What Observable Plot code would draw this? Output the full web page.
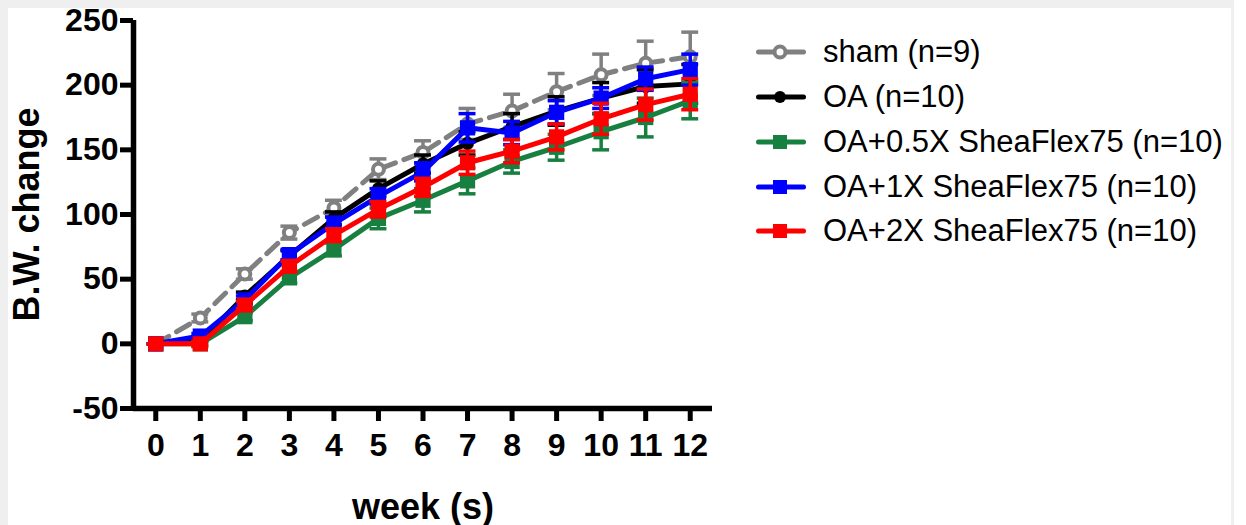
<!DOCTYPE html>
<html><head><meta charset="utf-8">
<script src="https://cdn.jsdelivr.net/npm/d3@7"></script>
<script src="https://cdn.jsdelivr.net/npm/@observablehq/plot@0.6"></script>
<style>
body{margin:0;background:#fff;font-family:"Liberation Sans",Arial,sans-serif;}
#wrap{position:relative;width:1246px;height:525px;overflow:hidden;}
#frame{position:absolute;left:0;top:0;width:1223px;height:530px;border-left:8px solid #efefef;border-top:8px solid #efefef;border-right:3px solid #efefef;}
#chart{position:absolute;left:0;top:0;}
#chart svg{background:transparent;overflow:visible;}
.leg{position:absolute;left:756px;height:34px;display:flex;align-items:center;font-size:31px;color:#000;white-space:nowrap;}
.leg svg{width:50px;height:20px;margin-right:17px;}
</style>
</head><body>
<div id="wrap"><div id="frame"></div><div id="chart"></div><div id="legend"></div></div>
<script>
const weeks = [0,1,2,3,4,5,6,7,8,9,10,11,12];
const yTicks = [-50,0,50,100,150,200,250];

const names = ["sham (n=9)","OA (n=10)","OA+0.5X SheaFlex75 (n=10)","OA+1X SheaFlex75 (n=10)","OA+2X SheaFlex75 (n=10)"];
const colors = ["#808080","#000000","#178040","#0000ff","#ff0000"];

const shamMean = [0,20,54,86,105,135,148,170,180,195,208,217,222];
const shamSem  = [0,3,4,5,6,8,9,12,13,14,16,17,19];
const oaMean   = [0,2,37,68,97,120,139,155,168,180,190,199,201];
const oaSem    = [0,2,3,4,5,6,7,9,10,11,12,13,15];
const halfMean = [0,0,21,51,73,97,111,126,141,152,164,175,188];
const halfSem  = [0,2,3,4,5,8,9,10,9,10,14,15,14];
const oneMean  = [0,6,34,69,93,114,133,167,163,179,190,205,212];
const oneSem   = [0,2,3,4,5,6,7,11,9,9,8,9,12];
const twoMean  = [0,0,30,60,84,104,121,140,149,160,174,185,193];
const twoSem   = [0,2,3,4,5,6,7,9,9,10,12,12,12];

const means = [shamMean, oaMean, halfMean, oneMean, twoMean];
const sems = [shamSem, oaSem, halfSem, oneSem, twoSem];

const font = "Liberation Sans, Arial, sans-serif";
const marks = [];
means.forEach((m, s) => {
  const data = weeks.map((w, i) => ({week: w, v: m[i], e: sems[s][i]}));
  const c = colors[s];
  marks.push(Plot.ruleX(data, {x: "week", y1: d => d.v - d.e, y2: d => d.v + d.e, stroke: c, strokeWidth: 3.5}));
  marks.push(Plot.ruleY(data, {y: d => d.v + d.e, x1: d => d.week - 0.19, x2: d => d.week + 0.19, stroke: c, strokeWidth: 3.5}));
  marks.push(Plot.ruleY(data, {y: d => d.v - d.e, x1: d => d.week - 0.19, x2: d => d.week + 0.19, stroke: c, strokeWidth: 3.5}));
  marks.push(Plot.line(data, {x: "week", y: "v", stroke: c, strokeWidth: 5, strokeDasharray: s === 0 ? "15,9" : null}));
  if (s === 0) marks.push(Plot.dot(data, {x: "week", y: "v", r: 5.5, stroke: c, strokeWidth: 4, fill: "white"}));
  else if (s === 1) marks.push(Plot.dot(data, {x: "week", y: "v", r: 6.5, fill: c, stroke: "none"}));
  else marks.push(Plot.dot(data, {x: "week", y: "v", r: 8.6, symbol: "square", fill: c, stroke: "none"}));
});

const chart = Plot.plot({
  width: 1246, height: 525,
  marginLeft: 133, marginRight: 534, marginTop: 20, marginBottom: 117,
  style: {background: "transparent", color: "#000", fontFamily: font},
  x: {domain: [-0.5, 12.5], axis: null},
  y: {domain: [-50, 250], axis: null},
  marks: [
    ...marks,
    Plot.axisX({ticks: weeks, tickSize: 13, tickPadding: 12, strokeWidth: 5, fontSize: 32, fontWeight: "bold", fontFamily: font, label: null, tickFormat: d => String(d)}),
    Plot.axisY({ticks: yTicks, tickSize: 13, tickPadding: 2, strokeWidth: 5, fontSize: 32, fontWeight: "bold", fontFamily: font, label: null, tickFormat: d => String(d)}),
    Plot.ruleX([-0.5], {strokeWidth: 5.5, stroke: "#000"}),
    Plot.ruleY([-50], {strokeWidth: 5.5, stroke: "#000"}),
    Plot.text(["B.W. change"], {frameAnchor: "left", dx: -106, rotate: -90, text: d => d, fontSize: 36, fontWeight: "bold", fontFamily: font, fill: "#000", textAnchor: "middle", lineAnchor: "middle"}),
    Plot.text(["week (s)"], {frameAnchor: "bottom", dy: 110, text: d => d, fontSize: 36, fontWeight: "bold", fontFamily: font, fill: "#000", textAnchor: "middle", lineAnchor: "bottom"})
  ]
});
document.getElementById("chart").appendChild(chart);

const legendY = [52, 97, 142, 187, 231];
const leg = document.getElementById("legend");
names.forEach((n, s) => {
  const row = document.createElement("div");
  row.className = "leg";
  row.style.top = (legendY[s] - 17) + "px";
  const c = colors[s];
  let marker;
  if (s === 0) marker = `<circle cx="24" cy="10" r="5.5" fill="white" stroke="${c}" stroke-width="4"/>`;
  else if (s === 1) marker = `<circle cx="24" cy="10" r="6" fill="${c}"/>`;
  else marker = `<rect x="17" y="3" width="14" height="14" fill="${c}"/>`;
  row.innerHTML = `<svg viewBox="0 0 50 20"><line x1="2.5" x2="47.5" y1="10" y2="10" stroke="${c}" stroke-width="5" stroke-linecap="round"/>${marker}</svg><span>${n}</span>`;
  leg.appendChild(row);
});
</script>
</body></html>
